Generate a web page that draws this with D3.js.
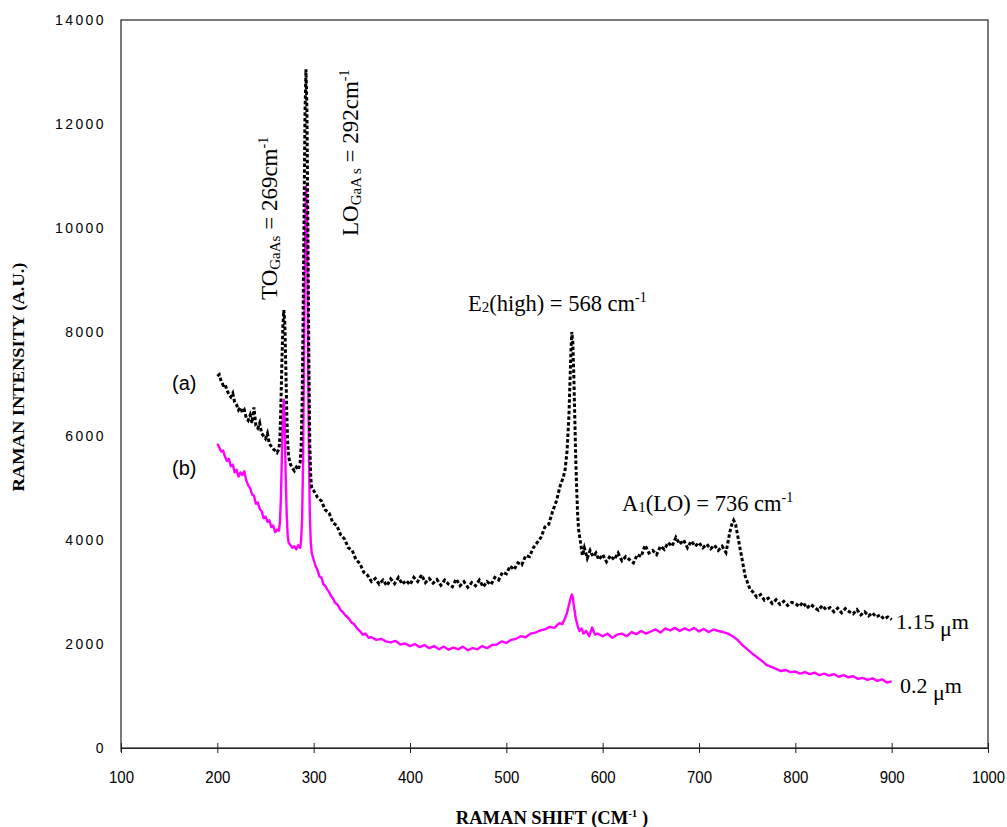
<!DOCTYPE html>
<html><head><meta charset="utf-8">
<script src="https://cdn.jsdelivr.net/npm/d3@7"></script>
<style>body{margin:0;background:#fff}svg{display:block}</style>
</head><body>
<svg id="c" width="1007" height="827"></svg>
<script>
// ---- data ----
const xTicks = [100,200,300,400,500,600,700,800,900,1000];
const yTicks = [0,2000,4000,6000,8000,10000,12000,14000];

// (a) 1.15 µm (black dotted): [Raman shift cm-1, intensity]
const seriesA = [[200,7150],[202,7180],[204,7050],[206,6980],[208,7000],[210,6880],[212,6800],[214,6750],[216,6820],[218,6650],[220,6600],[222,6500],[224,6550],[226,6450],[228,6500],[230,6350],[232,6300],[234,6400],[236,6250],[238,6550],[240,6200],[242,6150],[244,6250],[246,6050],[248,6000],[250,5950],[252,6050],[254,5850],[256,5800],[258,5750],[260,5720],[262,5680],[264,5750],[265,6000],[266,6600],[267,7400],[268,8100],[269,8420],[270,8200],[271,7400],[272,6500],[273,5900],[274,5600],[276,5450],[278,5380],[280,5330],[282,5400],[284,5350],[286,5500],[287,5800],[288,6600],[289,8200],[290,10200],[291,12200],[292,13050],[293,12300],[294,10000],[295,7500],[296,5800],[297,5200],[298,5000],
[300,4950],[304,4820],[308,4750],[312,4580],[316,4520],[320,4330],[324,4280],[328,4100],[332,4020],[336,3850],[340,3800],[344,3620],[348,3550],[352,3380],[356,3320],[360,3200],[364,3260],[368,3150],[372,3230],[376,3120],[380,3250],[384,3160],[388,3280],[392,3150],[396,3220],[400,3140],[404,3280],[408,3200],[412,3330],[416,3180],[420,3260],[424,3170],[428,3240],[432,3130],[436,3230],[440,3150],[444,3100],[448,3250],[452,3120],[456,3200],[460,3090],[464,3180],[468,3120],[472,3230],[476,3100],[480,3200],[484,3140],[488,3280],[492,3230],[496,3380],[500,3350],[504,3500],[508,3430],[512,3560],[516,3520],[520,3700],[524,3680],[528,3850],[532,3950],[536,4050],[540,4250],[544,4300],[548,4550],[552,4750],[556,5050],[559,5200],[561,5350],[563,5700],[565,6400],[566,7000],[567,7600],[568,8000],[569,7800],[570,7200],[571,6400],[572,5600],[573,5000],[574,4500],[575,4200],[577,3950],[579,3700],[581,3850],[584,3650],[587,3800],[590,3680],[593,3750],[596,3620],[600,3720],[604,3580],[608,3700],[612,3620],[616,3750],[620,3600],[624,3680],[628,3620],[632,3560],[636,3720],[640,3680],[644,3900],[648,3750],[652,3800],[656,3720],[660,3880],[664,3820],[668,3950],[672,3880],[676,4050],[680,3920],[684,4000],[688,3850],[692,3980],[696,3880],[700,3950],[704,3850],[708,3920],[712,3830],[716,3900],[720,3800],[724,3880],[728,3760],[730,3950],[732,4150],[734,4300],[736,4380],[738,4300],[740,4100],[742,3900],[744,3700],[746,3500],[748,3300],[750,3200],[753,3050],[756,3000],[760,2900],[764,2950],[768,2840],[772,2880],[776,2780],[780,2850],[784,2760],[788,2820],[792,2740],[796,2800],[800,2780],[804,2720],[808,2800],[812,2690],[816,2760],[820,2700],[824,2650],[828,2740],[832,2660],[836,2700],[840,2620],[844,2690],[848,2600],[852,2680],[856,2620],[860,2580],[864,2660],[868,2560],[872,2620],[876,2540],[880,2600],[884,2520],[888,2560],[892,2480],[896,2520],[900,2470]];

// (b) 0.2 µm (magenta): [Raman shift cm-1, intensity]
const seriesB = [[200,5850],[202,5780],[204,5700],[206,5720],[208,5600],[210,5520],[212,5560],[214,5420],[216,5450],[218,5300],[220,5350],[222,5220],[224,5300],[226,5250],[228,5320],[230,5150],[232,5050],[234,5000],[236,4880],[238,4850],[240,4700],[242,4720],[244,4600],[246,4550],[248,4420],[250,4450],[252,4350],[254,4380],[256,4250],[258,4280],[260,4150],[262,4200],[264,4180],[265,4350],[266,4800],[267,5600],[268,6400],[269,6700],[270,6200],[271,5200],[272,4500],[273,4100],[274,3950],[276,3900],[278,3850],[280,3880],[282,3820],[284,3900],[286,3850],[287,4000],[288,4400],[289,5500],[290,7500],[291,9600],[292,10800],[293,10300],[294,8000],[295,5800],[296,4500],[297,3950],[298,3750],[300,3620],[302,3500],[304,3420],[306,3300],[308,3280],[310,3150],[312,3120],[314,3050],[316,3000],[318,2920],[320,2880],[322,2800],[325,2750],[328,2650],[330,2620],[333,2550],[336,2500],[339,2420],[342,2380],[345,2300],[348,2250],[351,2180],[354,2200],[357,2120],[360,2130],[365,2080],[370,2100],[375,2050],[380,2030],[385,2060],[390,1990],[395,2010],[400,1960],[405,2000],[410,1940],[415,1980],[420,1920],[425,1960],[430,1900],[435,1950],[440,1890],[445,1930],[450,1900],[455,1950],[460,1880],[465,1920],[470,1900],[475,1960],[480,1920],[485,1980],[490,1990],[495,2050],[500,2020],[505,2080],[510,2100],[515,2150],[520,2130],[525,2200],[530,2220],[535,2260],[540,2280],[545,2330],[550,2310],[555,2400],[558,2380],[561,2500],[563,2600],[565,2750],[567,2900],[568,2950],[569,2900],[570,2750],[572,2500],[574,2350],[576,2250],[578,2300],[580,2200],[583,2250],[586,2150],[589,2320],[592,2180],[595,2200],[600,2150],[605,2200],[610,2120],[615,2180],[620,2200],[625,2150],[630,2230],[635,2190],[640,2250],[645,2200],[650,2240],[655,2280],[660,2220],[665,2300],[670,2260],[675,2310],[680,2250],[685,2300],[690,2260],[695,2310],[700,2240],[705,2290],[710,2230],[715,2280],[720,2250],[725,2230],[730,2200],[735,2150],[740,2080],[745,1980],[750,1900],[755,1820],[760,1750],[765,1680],[770,1600],[775,1560],[780,1520],[785,1480],[790,1500],[795,1460],[800,1470],[805,1430],[810,1460],[815,1420],[820,1450],[825,1400],[830,1430],[835,1390],[840,1420],[845,1370],[850,1400],[855,1360],[860,1380],[865,1330],[870,1350],[875,1310],[880,1340],[885,1290],[890,1320],[895,1260],[900,1280]];

// ---- chart ----
const svg = d3.select("#c");
const L = 121, R = 988, T = 20, B = 748;
const x = d3.scaleLinear().domain([100,1000]).range([L,R]);
const y = d3.scaleLinear().domain([0,14000]).range([B,T]);

// frame
svg.append("rect").attr("x",L).attr("y",T).attr("width",R-L).attr("height",B-T)
  .attr("fill","none").attr("stroke","#222").attr("stroke-width",1.2);
svg.append("line").attr("x1",L).attr("x2",L).attr("y1",B).attr("y2",B+4).attr("stroke","#222");

// x axis
const xa = svg.append("g").attr("transform",`translate(0,${B})`)
  .call(d3.axisBottom(x).tickValues(xTicks).tickSizeInner(5).tickSizeOuter(0).tickFormat(d3.format("d")));
xa.select(".domain").attr("stroke","#222").attr("stroke-width",1.2);
xa.selectAll(".tick line").attr("y1",-5).attr("y2",5).attr("stroke","#222");
xa.selectAll(".tick text").attr("y",24).attr("font-family","Liberation Sans, Arial, sans-serif")
  .attr("font-size",16).attr("fill","#000")
  .attr("textLength",d=>d>=1000?33:25).attr("lengthAdjust","spacingAndGlyphs");

// y axis
const ya = svg.append("g").attr("transform",`translate(${L},0)`)
  .call(d3.axisLeft(y).tickValues(yTicks).tickSize(0).tickFormat(d3.format("d")));
ya.select(".domain").remove();
ya.selectAll(".tick text").attr("x",-15).attr("font-family","Liberation Sans, Arial, sans-serif")
  .attr("font-size",14).attr("fill","#000").attr("letter-spacing","2.4px");

// axis titles
const serif = "Liberation Serif, Times New Roman, serif";
const xt = svg.append("text").attr("x",552).attr("y",824).attr("text-anchor","middle")
  .attr("font-family",serif).attr("font-weight","bold").attr("font-size",18.5);
xt.append("tspan").text("RAMAN SHIFT (CM");
xt.append("tspan").text("-1").attr("font-size",11).attr("dy",-7);
xt.append("tspan").text(" )").attr("dy",7);

svg.append("text").attr("transform","translate(24,377) rotate(-90)").attr("text-anchor","middle")
  .attr("font-family",serif).attr("font-weight","bold").attr("font-size",17)
  .attr("textLength",229).attr("lengthAdjust","spacingAndGlyphs")
  .text("RAMAN INTENSITY (A.U.)");

// lines
const line = d3.line().x(d=>x(d[0])).y(d=>y(d[1]));
svg.append("path").attr("d",line(seriesB)).attr("fill","none")
  .attr("stroke","#ff00ff").attr("stroke-width",2.4).attr("stroke-linejoin","round");
svg.append("path").attr("d",line(seriesA)).attr("fill","none")
  .attr("stroke","#000").attr("stroke-width",3).attr("stroke-dasharray","3.5 2.2");

// annotations
const sans = "Liberation Sans, Arial, sans-serif";
svg.append("text").attr("x",172).attr("y",390).attr("font-family",sans).attr("font-size",20).text("(a)");
svg.append("text").attr("x",172).attr("y",475).attr("font-family",sans).attr("font-size",20).text("(b)");

function ann(g, parts){
  parts.forEach(p=>{
    const t = g.append("tspan").text(p.t);
    if(p.fs) t.attr("font-size",p.fs);
    if(p.dy) t.attr("dy",p.dy);
  });
}
const to = svg.append("text").attr("transform","translate(277,300) rotate(-90)")
  .attr("font-family",serif).attr("font-size",23);
ann(to,[{t:"TO"},{t:"GaAs",fs:15,dy:3},{t:" = 269cm",dy:-3},{t:"-1",fs:14,dy:-9}]);

const lo = svg.append("text").attr("transform","translate(358,236) rotate(-90)")
  .attr("font-family",serif).attr("font-size",23);
ann(lo,[{t:"LO"},{t:"GaA s",fs:15,dy:3},{t:" = 292cm",dy:-3},{t:"-1",fs:14,dy:-9}]);

const e2 = svg.append("text").attr("x",468).attr("y",311).attr("font-family",serif).attr("font-size",22.5);
ann(e2,[{t:"E"},{t:"2",fs:15,dy:1},{t:"(high) = 568 cm",dy:-1},{t:"-1",fs:14,dy:-9}]);

const a1 = svg.append("text").attr("x",622).attr("y",511).attr("font-family",serif).attr("font-size",22.5);
ann(a1,[{t:"A"},{t:"1",fs:15,dy:1},{t:"(LO) = 736 cm",dy:-1},{t:"-1",fs:14,dy:-9}]);

const l1 = svg.append("text").attr("x",896).attr("y",629).attr("font-family",serif).attr("font-size",22);
ann(l1,[{t:"1.15 "},{t:"μ",dy:7},{t:"m",dy:-7}]);
const l2 = svg.append("text").attr("x",900).attr("y",693).attr("font-family",serif).attr("font-size",22);
ann(l2,[{t:"0.2 "},{t:"μ",dy:7},{t:"m",dy:-7}]);
</script>
</body></html>
